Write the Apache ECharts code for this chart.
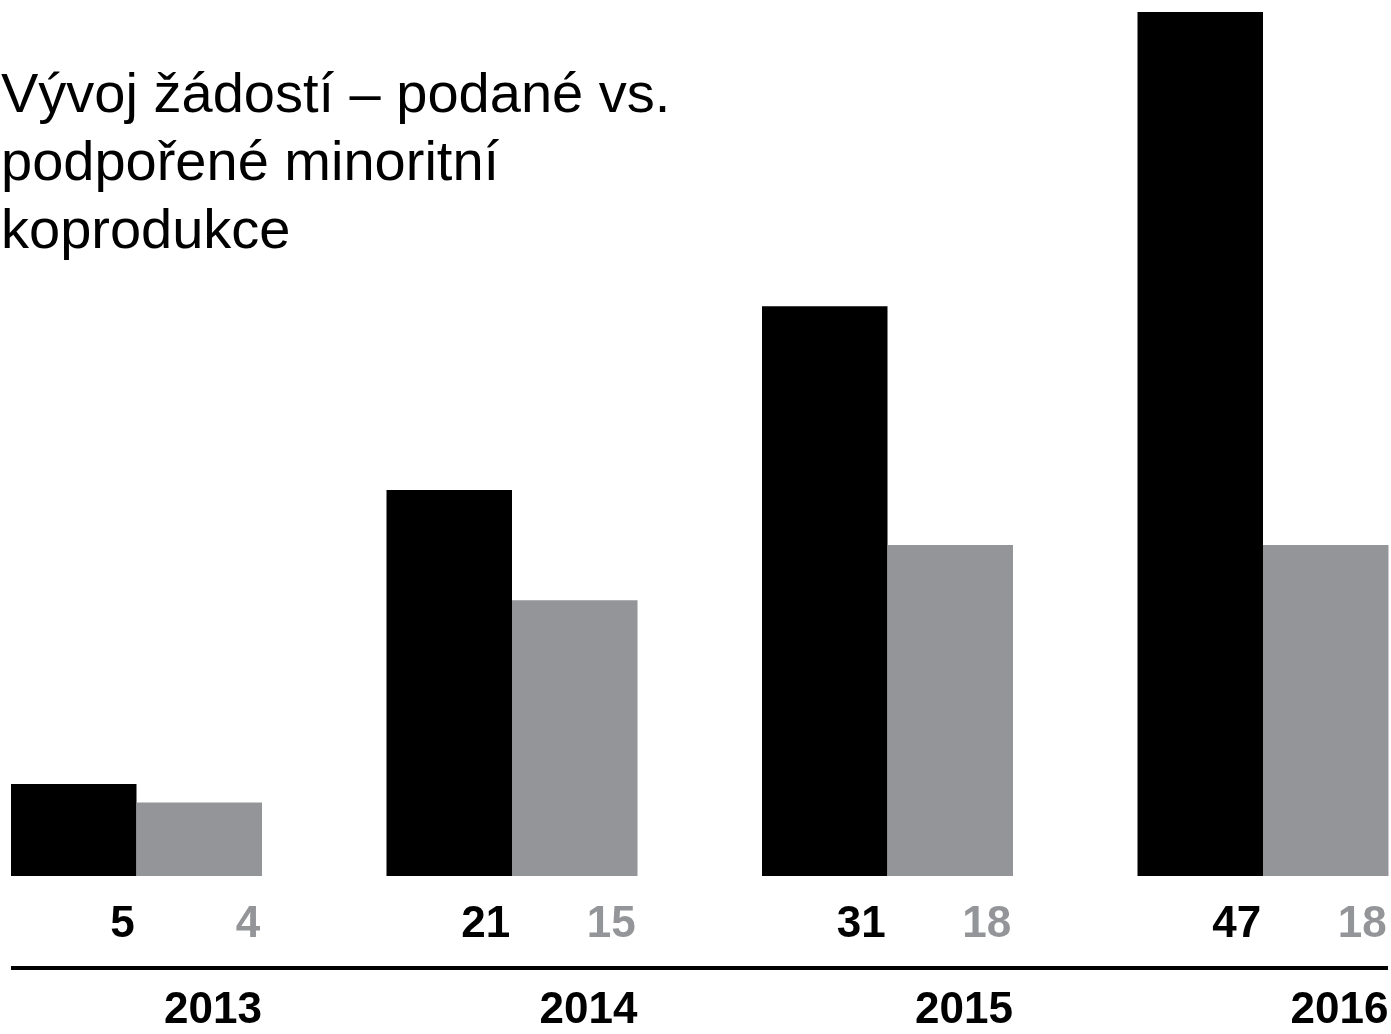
<!DOCTYPE html>
<html>
<head>
<meta charset="utf-8">
<script src="https://cdn.jsdelivr.net/npm/echarts@6/dist/echarts.min.js"></script>
<style>
  html, body { margin: 0; padding: 0; background: #fff; }
  #chart { width: 1391px; height: 1034px; }
</style>
</head>
<body>
<div id="chart"></div>
<script>
// roky
var years = ['2013', '2014', '2015', '2016'];
// podané žádosti
var podane = [5, 21, 31, 47];
// podpořené žádosti
var podporene = [4, 15, 18, 18];

var font = "'Liberation Sans', Arial, sans-serif";
var gray = '#939598';

var myChart = echarts.init(document.getElementById('chart'));

var option = {
  backgroundColor: '#fff',
  animation: false,
  title: {
    text: 'Vývoj žádostí – podané vs.\npodpořené minoritní\nkoprodukce',
    left: 1,
    top: 63,
    padding: 0,
    textStyle: {
      fontFamily: font,
      fontSize: 56,
      fontWeight: 'normal',
      lineHeight: 68,
      color: '#000'
    }
  },
  grid: {
    left: -51.25,
    width: 1502,
    top: 12,
    bottom: 158,
    outerBoundsMode: 'none'
  },
  xAxis: {
    type: 'category',
    data: years,
    axisLine: { show: false },
    axisTick: { show: false },
    axisLabel: {
      interval: 0,
      margin: 113,
      // rok zarovnaný k pravému okraji skupiny
      formatter: function (v) { return '{y|' + v + '}'; },
      rich: {
        y: {
          width: 251,
          align: 'right',
          fontFamily: font,
          fontSize: 44,
          fontWeight: 'bold',
          color: '#000'
        }
      }
    }
  },
  yAxis: {
    type: 'value',
    min: 0,
    max: 47,
    show: false,
    splitLine: { show: false }
  },
  series: [
    {
      name: 'podané',
      type: 'bar',
      data: podane,
      barWidth: 125.5,
      barGap: '0%',
      itemStyle: { color: '#000' },
      label: {
        show: true,
        position: 'bottom',
        distance: 27,
        align: 'right',
        offset: [61, 0],
        fontFamily: font,
        fontSize: 44,
        fontWeight: 'bold',
        color: '#000'
      }
    },
    {
      name: 'podpořené',
      type: 'bar',
      data: podporene,
      barWidth: 125.5,
      barGap: '0%',
      itemStyle: { color: gray },
      label: {
        show: true,
        position: 'bottom',
        distance: 27,
        align: 'right',
        offset: [61, 0],
        fontFamily: font,
        fontSize: 44,
        fontWeight: 'bold',
        color: gray
      }
    }
  ],
  // vodorovná čára pod hodnotami
  graphic: [
    {
      type: 'line',
      shape: { x1: 11, y1: 968, x2: 1388, y2: 968 },
      style: { stroke: '#000', lineWidth: 4 }
    }
  ]
};

option && myChart.setOption(option);
</script>
</body>
</html>
